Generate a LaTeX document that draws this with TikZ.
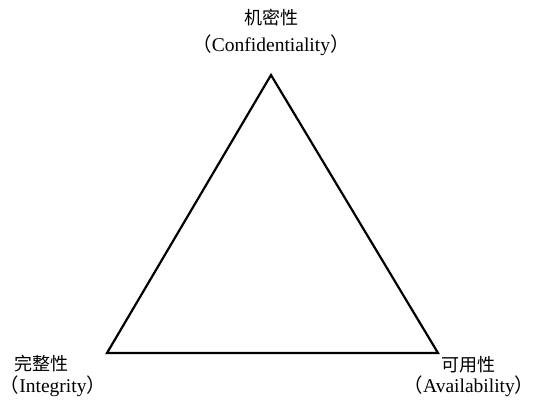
\documentclass[tikz,border=0pt]{standalone}
\usepackage{fontspec}
\setmainfont{Liberation Serif}
\newfontfamily\cjk{Noto Sans CJK SC}
\begin{document}
\begin{tikzpicture}[x=1pt,y=-1pt,
  cn/.style={font=\cjk\fontsize{18}{18}\selectfont, inner sep=0pt},
  en/.style={font=\fontsize{19.5}{19.5}\selectfont, inner sep=0pt},
  edge/.style={line width=2.2pt, line join=miter}]
\useasboundingbox (0,0) rectangle (536,402);
\coordinate (C) at (271,75);
\coordinate (I) at (107,353);
\coordinate (A) at (438,353);
\draw[edge] (C) -- (I) -- (A) -- cycle;
\node[cn] (c1) at (271,18) {机密性};
\node[en] (c2) at (271,45) {{\cjk （}Confidentiality{\cjk ）}};
\node[cn] (i1) at (42,364) {完整性};
\node[en] (i2) at (53,386) {{\cjk （}Integrity{\cjk ）}};
\node[cn] (a1) at (468,365) {可用性};
\node[en] (a2) at (469,386) {{\cjk （}Availability{\cjk ）}};
\end{tikzpicture}
\end{document}
